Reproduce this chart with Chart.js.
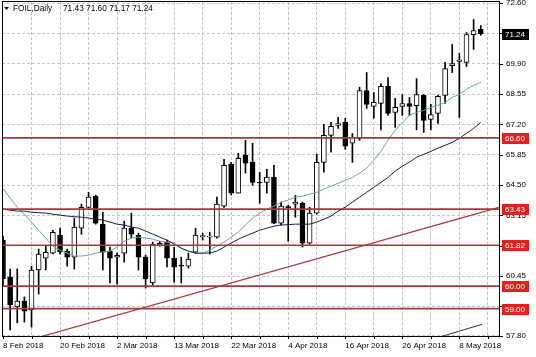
<!DOCTYPE html>
<html><head><meta charset="utf-8">
<script src="https://cdn.jsdelivr.net/npm/chart.js@4/dist/chart.umd.min.js"></script>
<style>html,body{margin:0;padding:0;background:#fff;overflow:hidden}#wrap{width:536px;height:357px}</style>
</head><body><div id="wrap"><canvas id="c" width="536" height="357"></canvas></div>
<script>
// ---- data (FOIL, Daily) ----
const dateLabels = ['8 Feb 2018','20 Feb 2018','2 Mar 2018','13 Mar 2018','22 Mar 2018','4 Apr 2018','16 Apr 2018','26 Apr 2018','8 May 2018'];
const openP  = [62.05,60.40,59.07,59.34,58.94,60.72,61.25,61.47,62.27,61.56,61.29,62.58,63.51,64.00,62.76,61.56,61.29,61.47,62.58,62.27,61.29,60.14,61.82,61.96,61.24,60.94,60.89,61.51,62.20,62.18,62.18,63.56,65.43,64.14,65.83,65.51,64.62,64.62,64.85,62.80,63.54,63.65,63.69,61.91,63.25,65.51,66.71,67.16,67.29,66.36,66.58,68.71,68.00,68.13,68.89,67.73,68.00,68.13,68.04,68.49,67.42,67.69,68.49,69.82,70.00,69.96,71.20,71.43];
const highP  = [62.23,60.76,60.77,59.52,60.89,61.65,61.78,62.49,62.58,61.65,63.03,63.65,64.18,64.05,63.29,61.74,61.47,62.89,63.25,62.36,61.38,61.96,62.00,62.05,61.73,61.29,61.47,62.58,62.36,62.40,63.96,65.65,65.51,65.91,66.49,66.36,65.07,65.20,65.38,63.74,63.60,64.04,63.74,63.51,65.87,67.20,67.29,67.51,67.47,66.80,68.85,69.51,68.62,69.02,69.29,68.36,68.53,68.40,69.24,68.53,68.09,68.49,69.96,70.76,70.36,71.29,71.87,71.60];
const lowP   = [60.00,58.05,58.37,58.40,58.18,59.65,60.72,61.43,61.43,60.89,60.76,62.31,63.47,62.76,60.72,60.14,60.09,61.07,62.14,60.72,59.92,60.05,61.78,60.85,60.18,60.14,60.80,61.47,62.05,61.43,62.14,63.51,64.05,64.14,65.03,64.49,63.69,64.14,62.78,62.71,62.00,63.07,61.74,61.87,63.20,65.07,65.96,67.02,66.09,65.51,66.49,67.91,67.47,66.96,67.60,67.07,67.60,67.60,66.96,66.84,66.96,67.24,68.13,69.51,67.51,69.78,70.54,71.17];
const closeP = [60.32,59.16,59.34,58.89,60.72,61.43,61.51,62.40,61.52,61.29,62.63,63.51,63.96,62.80,61.51,61.25,61.37,62.58,62.31,61.29,60.32,61.87,61.91,61.25,60.84,60.89,61.20,62.27,62.25,62.23,63.65,65.38,64.14,65.69,65.47,64.62,64.60,64.85,62.80,63.56,63.49,63.74,61.91,63.25,65.51,66.71,67.11,67.24,66.23,66.62,68.71,68.09,68.18,68.89,67.69,67.96,68.13,68.00,68.53,67.38,67.64,68.45,69.69,69.91,70.07,71.20,71.38,71.24];
const maFast = [64.36,63.92,63.52,63.20,62.85,62.49,62.14,61.78,61.60,61.47,61.34,61.34,61.38,61.47,61.52,61.56,61.74,62.00,62.14,62.18,62.14,62.09,62.00,61.96,61.92,61.69,61.56,61.47,61.47,61.60,61.78,61.96,62.18,62.40,62.72,63.03,63.25,63.43,63.56,63.74,63.83,63.96,64.00,64.09,64.18,64.32,64.45,64.58,64.71,64.84,65.03,65.25,65.60,66.00,66.49,66.94,67.29,67.60,67.74,67.82,67.96,68.05,68.18,68.40,68.54,68.76,68.94,69.07];
const maSlow = [63.43,63.38,63.34,63.34,63.29,63.27,63.25,63.20,63.16,63.12,63.09,63.07,63.03,62.98,62.94,62.85,62.76,62.72,62.63,62.58,62.45,62.32,62.18,62.05,61.87,61.69,61.56,61.47,61.47,61.47,61.56,61.74,61.92,62.09,62.23,62.36,62.49,62.58,62.67,62.72,62.74,62.76,62.76,62.76,62.85,62.98,63.12,63.34,63.52,63.74,63.96,64.18,64.40,64.62,64.84,65.12,65.34,65.52,65.74,65.87,66.00,66.14,66.27,66.40,66.58,66.80,67.02,67.29];
const hLevels = [66.60, 63.43, 61.82, 60.00, 59.00];
const lastPrice = 71.24;
const yTickValues = [72.60,71.25,69.90,68.55,67.20,65.85,64.50,63.15,61.80,60.45,59.10,57.80];
const trend1 = [{x:5.2,y:57.74},{x:69.7,y:63.52}];
const trend2 = [{x:61.3,y:57.74},{x:67.2,y:58.30}];
const titleName = 'FOIL,Daily';
const titleOHLC = '71.43 71.60 71.17 71.24';

// ---- build datasets ----
const idx = openP.map((_, i) => i);
const bodyData = idx.map(i => ({x: i, y: [openP[i], closeP[i]]}));
const wickData = idx.map(i => ({x: i, y: [lowP[i], highP[i]]}));
const bodyColors = idx.map(i => closeP[i] >= openP[i] ? '#ffffff' : '#000000');
const lineColor = '#a33a3a';

const datasets = [
  {type:'line', data: idx.map(i=>({x:i,y:maFast[i]})), borderColor:'#6aa6a6', borderWidth:1, pointRadius:0, tension:0, order:-2},
  {type:'line', data: idx.map(i=>({x:i,y:maSlow[i]})), borderColor:'#1a1d4e', borderWidth:1, pointRadius:0, tension:0, order:-3},
  {type:'line', data: trend1, borderColor:lineColor, borderWidth:1.2, pointRadius:0, order:-4},
  {type:'line', data: trend2, borderColor:'#333333', borderWidth:1, pointRadius:0, order:-4},
];
hLevels.forEach(v => datasets.push({type:'line', data:[{x:-2,y:v},{x:72,y:v}], borderColor:lineColor, borderWidth:1.6, pointRadius:0, order:-5}));
datasets.push({type:'bar', data: bodyData, backgroundColor: bodyColors, borderColor:'#000', borderWidth:1, borderSkipped:false, barThickness:5, grouped:false, order:1});
datasets.push({type:'bar', data: wickData, backgroundColor:'#000', borderWidth:0, barThickness:1, grouped:false, order:2});

Chart.defaults.font.family = "'Liberation Sans', Arial, sans-serif";
Chart.defaults.font.size = 8;
Chart.defaults.color = '#000';

const overlay = {
  id:'overlay',
  afterDraw(chart){
    const ctx = chart.ctx, a = chart.chartArea, ys = chart.scales.y, xs = chart.scales.x;
    ctx.save();
    // frame
    ctx.strokeStyle = '#000'; ctx.lineWidth = 1;
    ctx.strokeRect(Math.round(a.left)+0.5, Math.round(a.top)-0.5, Math.round(a.right-a.left)-1, Math.round(a.bottom-a.top)+1);
    // tick marks
    ctx.beginPath();
    ys.ticks.forEach(t => { const y = Math.round(ys.getPixelForValue(t.value))+0.5; ctx.moveTo(a.right, y); ctx.lineTo(a.right+3, y); });
    xs.ticks.forEach(t => { const x = Math.round(xs.getPixelForValue(t.value))+0.5; ctx.moveTo(x, a.bottom); ctx.lineTo(x, a.bottom+3); });
    ctx.stroke();
    // price tags
    ctx.font = "8px 'Liberation Sans', Arial, sans-serif";
    ctx.textBaseline = 'middle'; ctx.textAlign = 'left';
    hLevels.forEach(v => {
      const y = Math.round(ys.getPixelForValue(v));
      ctx.fillStyle = '#e2201f'; ctx.fillRect(a.right+2, y-5, 27, 11);
      ctx.fillStyle = '#fff'; ctx.fillText(v.toFixed(2), a.right+5, y+0.5);
    });
    const yl = Math.round(ys.getPixelForValue(lastPrice));
    ctx.fillStyle = '#000'; ctx.fillRect(a.right+2, yl-5, 27, 11);
    ctx.fillStyle = '#fff'; ctx.fillText(lastPrice.toFixed(2), a.right+5, yl+0.5);
    // title
    ctx.fillStyle = '#000';
    ctx.beginPath(); ctx.moveTo(4,7); ctx.lineTo(9,7); ctx.lineTo(6.5,10); ctx.closePath(); ctx.fill();
    ctx.font = "8.3px 'Liberation Sans', Arial, sans-serif";
    ctx.fillText(titleName, 13, 9);
    ctx.fillText(titleOHLC, 63, 9);
    ctx.restore();
  }
};

new Chart(document.getElementById('c'), {
  type:'bar',
  data:{datasets},
  options:{
    responsive:false, animation:false, devicePixelRatio:1,
    layout:{padding:{left:2,top:2,right:0,bottom:0}},
    plugins:{legend:{display:false}, tooltip:{enabled:false}, title:{display:false}},
    scales:{
      x:{type:'linear', min:-0.14, max:69.7, offset:false,
         grid:{color:'#c4c4c4', lineWidth:1, drawTicks:false, offset:false},
         border:{display:false, dash:[3,2]},
         ticks:{align:'start', padding:5, maxRotation:0, autoSkip:false,
                callback:(v)=> (v % 8 === 0 && dateLabels[v/8]) ? dateLabels[v/8] : ''},
         afterBuildTicks:(s)=>{ const t=[]; for(let i=0;i<=68;i+=4) t.push({value:i}); s.ticks=t; },
         afterFit:(s)=>{ s.height=21; s.paddingLeft=0; s.paddingRight=0; }
      },
      y:{type:'linear', position:'right', min:57.78, max:72.65,
         grid:{color:'#c4c4c4', lineWidth:1, drawTicks:false},
         border:{display:false, dash:[3,2]},
         ticks:{padding:6, autoSkip:false, callback:(v)=>Number(v).toFixed(2)},
         afterBuildTicks:(s)=>{ s.ticks = yTickValues.map(v=>({value:v})); },
         afterFit:(s)=>{ s.width=36; s.paddingTop=0; s.paddingBottom=0; }
      }
    }
  },
  plugins:[overlay]
});
</script></body></html>
